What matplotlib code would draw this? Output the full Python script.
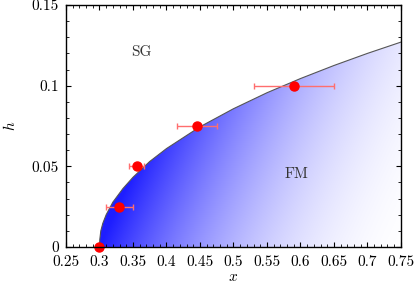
import numpy as np
import matplotlib
matplotlib.use('Agg')
import matplotlib.pyplot as plt
from matplotlib.patches import Polygon
from matplotlib.ticker import MultipleLocator, FuncFormatter

plt.rcParams['font.family'] = 'serif'
plt.rcParams['font.serif'] = ['cmr10', 'DejaVu Serif']
plt.rcParams['mathtext.fontset'] = 'cm'
plt.rcParams['axes.unicode_minus'] = False

# phase boundary
boundary_x = [0.300, 0.3005, 0.302, 0.305, 0.31, 0.32, 0.335, 0.35, 0.375,
              0.40, 0.45, 0.50, 0.55, 0.60, 0.65, 0.70, 0.75]
boundary_h = [0.0, 0.0047, 0.0100, 0.0147, 0.0200, 0.0278, 0.0362, 0.0432, 0.0530,
              0.0610, 0.0745, 0.0857, 0.0956, 0.1044, 0.1125, 0.1200, 0.127]

# simulation points with horizontal error bars
pts_x = [0.2997, 0.3296, 0.3555, 0.445, 0.5907]
pts_h = [0.0, 0.025, 0.05, 0.075, 0.1]
pts_xerr = [0.0, 0.02, 0.011, 0.03, 0.06]

fig = plt.figure(figsize=(4.15, 2.88), dpi=100)
ax = fig.add_axes([0.159, 0.1424, 0.807, 0.8402])
ax.set_xlim(0.25, 0.75)
ax.set_ylim(0, 0.15)

# gradient fill under the boundary (FM region)
gx = np.linspace(0.25, 0.75, 400)
gy = np.linspace(0, 0.15, 300)
GX, GY = np.meshgrid(gx, gy)
s = np.clip((GX - 0.3) / 0.47 - 0.29 * GY / 0.127, 0, 1)
t = 1 - (1 - s) ** 2
base = np.array([30, 30, 255]) / 255.0
img = np.zeros(GX.shape + (3,))
for c in range(3):
    img[..., c] = base[c] * (1 - t) + 1.0 * t
im = ax.imshow(img, extent=(0.25, 0.75, 0, 0.15), origin='lower',
               aspect='auto', interpolation='bilinear', zorder=1)
poly_xy = list(zip(boundary_x, boundary_h)) + [(0.75, 0.0)]
poly = Polygon(poly_xy, closed=True, facecolor='none', edgecolor='none',
               transform=ax.transData)
ax.add_patch(poly)
im.set_clip_path(poly)

ax.plot(boundary_x, boundary_h, color='#555555', lw=0.8, zorder=2)

ax.errorbar(pts_x, pts_h, xerr=pts_xerr, fmt='none', ecolor='#ff6e6e',
            elinewidth=1.0, capsize=2.2, capthick=1.0, zorder=3)
ax.plot(pts_x, pts_h, 'o', color='#ff0000', markersize=6.5, zorder=4,
        clip_on=False)

ax.text(0.363, 0.1205, 'SG', fontsize=11, ha='center', va='center',
        color='#333333')
ax.text(0.594, 0.045, 'FM', fontsize=11, ha='center', va='center',
        color='#333333')

ax.set_xlabel('$x$', fontsize=11, labelpad=1)
ax.set_ylabel('$h$', fontsize=11, labelpad=10)

ax.xaxis.set_major_locator(MultipleLocator(0.05))
ax.xaxis.set_minor_locator(MultipleLocator(0.01))
ax.yaxis.set_major_locator(MultipleLocator(0.05))
ax.yaxis.set_minor_locator(MultipleLocator(0.01))
fmt = FuncFormatter(lambda v, p: '%g' % round(v, 4))
ax.xaxis.set_major_formatter(fmt)
ax.yaxis.set_major_formatter(fmt)
ax.tick_params(which='both', direction='in', top=True, right=True,
               labelsize=11)
ax.tick_params(axis='x', which='major', pad=6)
ax.tick_params(axis='y', which='major', pad=5)
ax.tick_params(which='major', length=3.5, width=0.8)
ax.tick_params(which='minor', length=2, width=0.6)
for sp in ax.spines.values():
    sp.set_linewidth(1.0)
    sp.set_zorder(5)

fig.savefig('out.png', dpi=100)
